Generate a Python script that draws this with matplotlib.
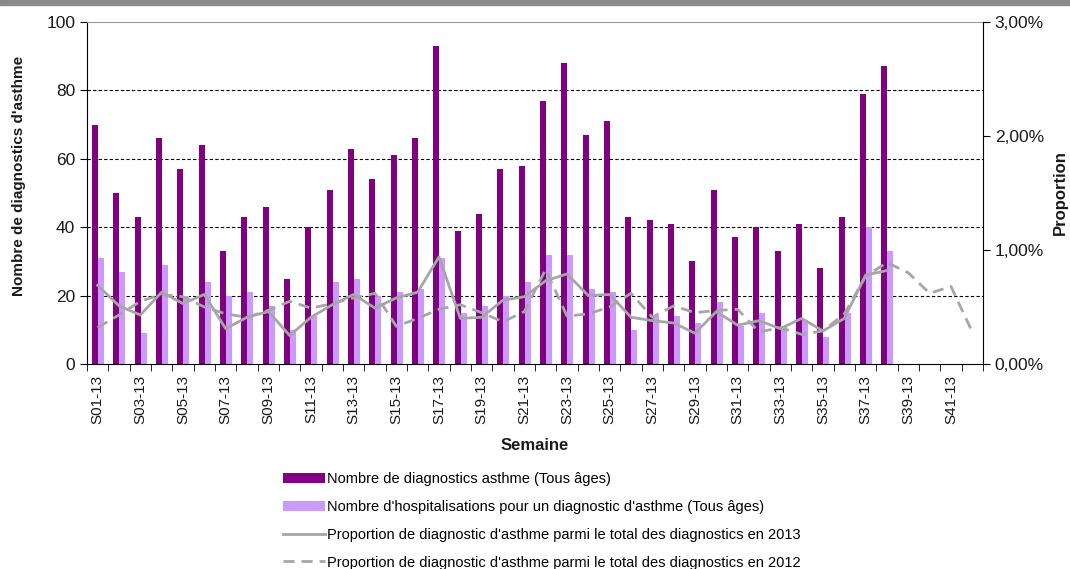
import numpy as np
import matplotlib
matplotlib.use("Agg")
import matplotlib.pyplot as plt
from matplotlib.ticker import FuncFormatter, FixedLocator
from matplotlib.patches import Rectangle

plt.rcParams['font.family'] = ['Liberation Sans', 'DejaVu Sans']

# weeks S01-13 .. S42-13
weeks = ["S%02d-13" % i for i in range(1, 43)]

# counts (only weeks 1..38 reported)
diagnostics = [70, 50, 43, 66, 57, 64, 33, 43, 46, 25, 40, 51, 63, 54, 61, 66, 93, 39, 44,
               57, 58, 77, 88, 67, 71, 43, 42, 41, 30, 51, 37, 40, 33, 41, 28, 43, 79, 87]
hospitalisations = [31, 27, 9, 29, 20, 24, 20, 21, 17, 10, 14, 24, 25, 20, 21, 22, 31, 15, 17,
                    20, 24, 32, 32, 22, 21, 10, 14, 14, 12, 18, 11, 15, 11, 13, 8, 15, 40, 33]

# proportions in % (2013 up to week 38, 2012 all weeks)
prop_2013 = [0.69, 0.51, 0.43, 0.63, 0.53, 0.61, 0.31, 0.41, 0.46, 0.25, 0.41, 0.52, 0.61,
             0.49, 0.58, 0.63, 0.94, 0.40, 0.41, 0.56, 0.59, 0.73, 0.79, 0.60, 0.61, 0.41,
             0.38, 0.36, 0.27, 0.46, 0.34, 0.38, 0.31, 0.40, 0.29, 0.40, 0.78, 0.82]
prop_2012 = [0.32, 0.43, 0.55, 0.61, 0.59, 0.50, 0.44, 0.41, 0.47, 0.55, 0.49, 0.53, 0.58,
             0.62, 0.33, 0.40, 0.48, 0.52, 0.45, 0.37, 0.46, 0.83, 0.42, 0.44, 0.50, 0.62,
             0.41, 0.51, 0.45, 0.47, 0.48, 0.28, 0.32, 0.26, 0.29, 0.44, 0.77, 0.89, 0.80,
             0.62, 0.68, 0.28]

dark = "#800080"
light = "#CC99FF"
grey = "#A6A6A6"
txt = "#1a1a1a"

fig = plt.figure(figsize=(10.7, 5.69), dpi=100)
ax = fig.add_axes([87/1070, 1 - 364/569, (983-87)/1070, (364-22)/569])

# window border at the top
fig.patches.append(Rectangle((0, 1 - 5/569), 1, 5/569, transform=fig.transFigure,
                             color="#8a8a8a", zorder=0))

x_bar = np.arange(len(diagnostics))
ax.bar(x_bar - 0.13, diagnostics, width=0.28, color=dark, zorder=2,
       label="Nombre de diagnostics asthme (Tous âges)")
ax.bar(x_bar + 0.15, hospitalisations, width=0.28, color=light, zorder=2,
       label="Nombre d'hospitalisations pour un diagnostic d'asthme (Tous âges)")

ax.set_xlim(-0.5, len(weeks) - 0.5)
ax.set_ylim(0, 100)
ax.set_yticks([0, 20, 40, 60, 80, 100])
for g in [20, 40, 60, 80]:
    ax.axhline(g, color="black", lw=0.8, ls=(0, (3, 2)), zorder=1)

ax.set_xticks(np.arange(0, len(weeks), 2))
ax.set_xticklabels(weeks[::2], rotation=90)
ax.xaxis.set_minor_locator(FixedLocator(np.arange(-0.5, len(weeks), 1)))
ax.tick_params(axis='x', which='major', length=0, pad=8, labelsize=11, colors=txt)
ax.tick_params(axis='x', which='minor', length=5, direction='out', color='black')
ax.tick_params(axis='y', length=5, direction='out', labelsize=12.5, colors=txt, color='black')

ax.spines['top'].set_color("#999999")
ax.spines['right'].set_visible(False)
for s in ['left', 'bottom']:
    ax.spines[s].set_color('black')

ax.set_xlabel("Semaine", fontsize=12, fontweight='bold', color=txt, labelpad=10)
ax.set_ylabel("Nombre de diagnostics d'asthme", fontsize=11, fontweight='bold', color=txt)
ax.yaxis.set_label_coords(-0.068, 0.55)

ax2 = ax.twinx()
ax2.plot(np.arange(len(prop_2013)), prop_2013, color=grey, lw=2, zorder=3,
         label="Proportion de diagnostic d'asthme parmi le total des diagnostics en 2013")
ax2.plot(np.arange(len(prop_2012)), prop_2012, color=grey, lw=2, ls=(0, (4, 2.5)), zorder=3,
         label="Proportion de diagnostic d'asthme parmi le total des diagnostics en 2012")
ax2.set_ylim(0, 3)
ax2.set_yticks([0, 1, 2, 3])
ax2.yaxis.set_major_formatter(FuncFormatter(lambda v, p: ("%.2f%%" % v).replace('.', ',')))
ax2.tick_params(axis='y', length=5, direction='out', labelsize=12.5, colors=txt, color='black')
ax2.spines['right'].set_color('black')
ax2.spines['top'].set_visible(False)
ax2.spines['left'].set_visible(False)
ax2.spines['bottom'].set_visible(False)
ax2.set_ylabel("Proportion", fontsize=12, fontweight='bold', color=txt, labelpad=6)

h1, l1 = ax.get_legend_handles_labels()
h2, l2 = ax2.get_legend_handles_labels()
fig.legend(h1 + h2, l1 + l2, loc='upper left', bbox_to_anchor=(283/1070, 1 - 472/569),
           frameon=False, fontsize=10.5, handlelength=2.9, handletextpad=0.15,
           labelspacing=0.95, borderaxespad=0, borderpad=0)

fig.savefig("out.png", dpi=100)
